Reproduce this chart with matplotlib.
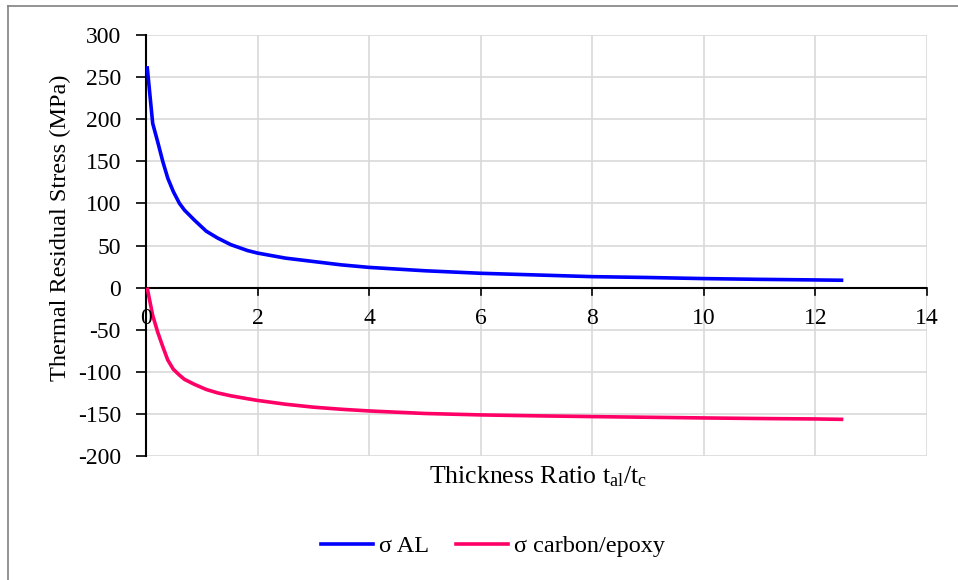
import matplotlib
matplotlib.use("Agg")
import matplotlib.pyplot as plt
from matplotlib.lines import Line2D

plt.rcParams['font.family'] = ['Liberation Serif', 'DejaVu Serif']
plt.rcParams['mathtext.fontset'] = 'custom'
plt.rcParams['mathtext.rm'] = 'Liberation Serif'
plt.rcParams['mathtext.it'] = 'Liberation Serif:italic'

ratio = [0.02, 0.12, 0.21, 0.30, 0.39, 0.49, 0.60, 0.69, 0.87, 1.08, 1.28, 1.52,
         1.82, 2.0, 2.5, 3.0, 3.5, 4.0, 5.0, 6.0, 7.0, 8.0, 9.0, 10.0, 11.0, 12.0, 12.5]
sigma_al = [263, 195, 173, 150, 130, 114, 100, 92, 80, 67, 59, 51,
            44, 41, 35, 31, 27, 24, 20, 17, 15, 13, 12, 10.7, 9.8, 9.1, 8.7]
sigma_ce = [0, -33, -53, -70, -86, -97, -104, -109, -115, -121, -125, -128.5,
            -132, -134, -138.5, -142, -144.5, -146.5, -149.5, -151.2, -152.3, -153.2, -154,
            -154.8, -155.5, -156, -156.5]

xticks = [0, 2, 4, 6, 8, 10, 12, 14]
yticks = [300, 250, 200, 150, 100, 50, 0, -50, -100, -150, -200]

W, H = 958, 580
fig = plt.figure(figsize=(W / 100, H / 100), dpi=100)
left, right, top, bottom = 146, 927, 35, 456
ax = fig.add_axes([left / W, 1 - bottom / H, (right - left) / W, (bottom - top) / H])

blue = '#0000FF'
pink = '#FF0066'
ax.plot(ratio, sigma_al, color=blue, lw=2.6, solid_capstyle='butt', zorder=3)
ax.plot(ratio, sigma_ce, color=pink, lw=2.6, solid_capstyle='butt', zorder=3)

ax.set_xlim(0, 14)
ax.set_ylim(-200, 300)
ax.set_xticks(xticks)
ax.set_yticks(yticks)
ax.grid(True, color='#D9D9D9', lw=1.2, zorder=0)
ax.set_axisbelow(True)

for s in ['top', 'right', 'bottom']:
    ax.spines[s].set_visible(False)
ax.spines['left'].set_color('black')
ax.spines['left'].set_linewidth(1.5)
ax.axhline(0, color='black', lw=1.5, zorder=2)

fs = 17
ax.tick_params(axis='y', direction='out', length=7, width=1.2, labelsize=fs, pad=11)
ax.set_yticklabels([str(v) for v in yticks])
# x tick labels next to zero axis
ax.tick_params(axis='x', length=0, labelbottom=False)
for v in xticks:
    ax.plot([v, v], [0, -8.5], color='black', lw=1.2, zorder=2, clip_on=False)
    ax.text(v, -24, str(v), ha='center', va='top', fontsize=fs, zorder=4)

fig.text(60 / W, 1 - 228 / H, 'Thermal Residual Stress (MPa)', rotation=90,
         ha='center', va='center', fontsize=17.5)
fig.text(538 / W, 1 - 477 / H, r'Thickness Ratio t$_{\mathrm{al}}$/t$_{\mathrm{c}}$',
         ha='center', va='center', fontsize=18.5)

handles = [Line2D([], [], color=blue, lw=2.6), Line2D([], [], color=pink, lw=2.6)]
fig.legend(handles, ['σ AL', 'σ carbon/epoxy'], loc='center', ncol=2,
           bbox_to_anchor=(493 / W, 1 - 546 / H), frameon=False, fontsize=17.5,
           handlelength=2.15, handletextpad=0.25, columnspacing=1.1)

# chart area border
fig.add_artist(Line2D([8 / W, 8 / W], [0, 1 - 6 / H], color='#808080', lw=1.2))
fig.add_artist(Line2D([8 / W, 1], [1 - 6 / H, 1 - 6 / H], color='#808080', lw=1.2))

fig.savefig('out.png', dpi=100)
